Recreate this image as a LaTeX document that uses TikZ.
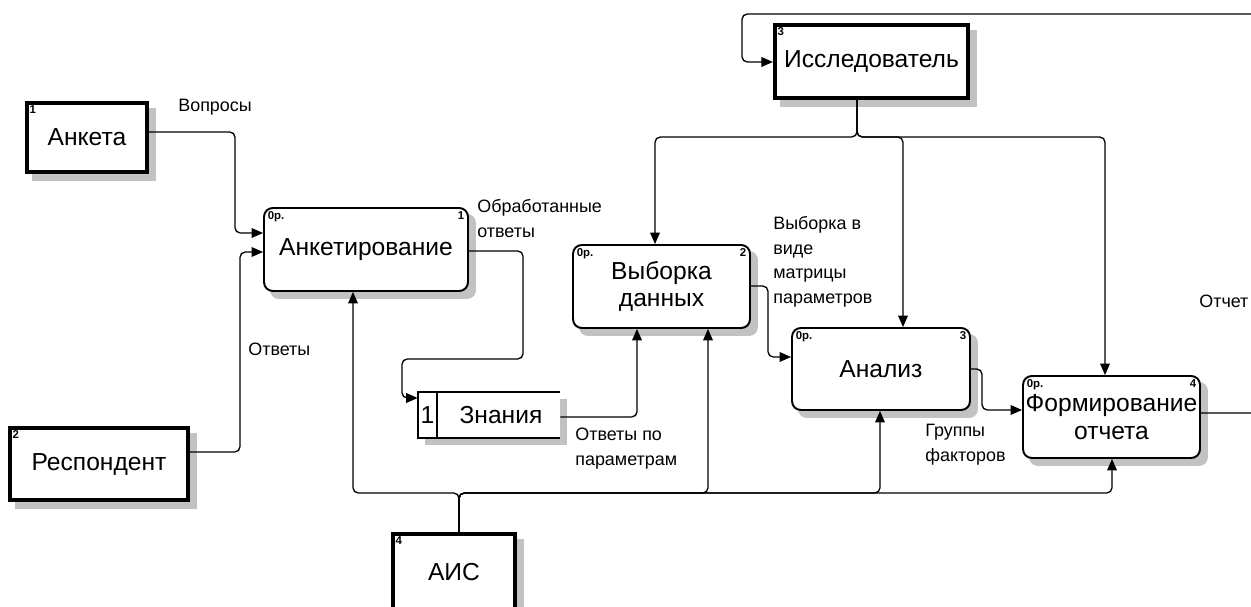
\documentclass[tikz,border=0pt]{standalone}
\usepackage{fontspec}
\setmainfont{Liberation Sans}
\usetikzlibrary{arrows.meta,calc,backgrounds}
\tikzset{
  ext/.style={draw,line width=2.4pt,fill=white,inner sep=0pt,font=\fontsize{14}{16}\selectfont},
  fun/.style={draw,line width=1.1pt,rounded corners=5pt,fill=white,inner sep=0pt,align=center,
    font=\fontsize{14}{15.5}\selectfont},
  num/.style={font=\fontsize{6.5}{7}\selectfont\bfseries,inner sep=2.5pt},
  flow/.style={line width=0.75pt,rounded corners=3pt,-{Triangle[length=6.5pt,width=5.5pt]}},
  lbl/.style={anchor=north west,inner sep=0pt,align=left,font=\fontsize{10.2}{14}\selectfont},
  shdw/.style={fill=black!24}
}
\begin{document}
\begin{tikzpicture}[x=0.02cm,y=-0.02cm]
\useasboundingbox (0,0) rectangle (1251,607);
\node[ext,minimum width=2.4cm,minimum height=1.38cm,
  label={[name=ank-n,num,anchor=north west]north west:1}] (ank) at (87,137.5) {Анкета};
\node[ext,minimum width=3.56cm,minimum height=1.44cm,
  label={[name=resp-n,num,anchor=north west]north west:2}] (resp) at (99,464) {Респондент};
\node[ext,minimum width=3.86cm,minimum height=1.46cm,
  label={[name=isl-n,num,anchor=north west]north west:3}] (isl) at (871.5,61.5) {Исследователь};
\node[ext,minimum width=2.44cm,minimum height=1.52cm,
  label={[name=ais-n,num,anchor=north west]north west:4}] (ais) at (454,572) {АИС};
\node[fun,minimum width=4.08cm,minimum height=1.66cm,
  label={[name=a1-p,num,anchor=north west]north west:0р.},
  label={[name=a1-n,num,anchor=north east]north east:1}] (a1) at (366,249.5) {Анкетирование};
\node[fun,minimum width=3.54cm,minimum height=1.66cm,
  label={[name=a2-p,num,anchor=north west]north west:0р.},
  label={[name=a2-n,num,anchor=north east]north east:2}] (a2) at (661.5,286.5) {Выборка\\данных};
\node[fun,minimum width=3.56cm,minimum height=1.64cm,
  label={[name=a3-p,num,anchor=north west]north west:0р.},
  label={[name=a3-n,num,anchor=north east]north east:3}] (a3) at (881,369) {Анализ};
\node[fun,minimum width=3.54cm,minimum height=1.64cm,
  label={[name=a4-p,num,anchor=north west]north west:0р.},
  label={[name=a4-n,num,anchor=north east]north east:4}] (a4) at (1111.5,417) {Формирование\\отчета};
\node[fill=white,minimum width=2.84cm,minimum height=0.92cm,inner sep=0pt] (zn) at (489,415) {};
\draw[line width=1.1pt] (zn.north east) -- (zn.north west) -- (zn.south west) -- (zn.south east);
\draw[line width=1.1pt] ($(zn.north west)+(19,0)$) -- ($(zn.south west)+(19,0)$);
\node[font=\fontsize{14}{16}\selectfont] (zn-num) at (427.5,415) {1};
\node[font=\fontsize{14}{16}\selectfont] (zn-txt) at (501,415) {Знания};
\begin{scope}[on background layer]
\fill[white] (0,0) rectangle (1251,607);
\foreach \n in {ank,resp,isl,ais,zn}
  \fill[shdw] ($(\n.south west)+(7,7)$) rectangle ($(\n.north east)+(7,7)$);
\foreach \n in {a1,a2,a3,a4}
  \fill[shdw,rounded corners=5pt] ($(\n.south west)+(7,7)$) rectangle ($(\n.north east)+(7,7)$);
\end{scope}
\draw[flow] ($(ank.east)+(0,-5.5)$) -| (235,233) -- ($(a1.west)+(0,-16.5)$);
\draw[flow] ($(resp.east)+(0,-12)$) -| (240,252) -- ($(a1.west)+(0,2.5)$);
\draw[flow] ($(a1.east)+(0,1.5)$) -| (523,359) -| (402,398) -- ($(zn.west)+(0,-17)$);
\draw[flow] ($(zn.east)+(0,2)$) -| ($(a2.south)+(-24.5,0)$);
\draw[flow] ($(a2.east)+(0,-0.5)$) -| (768,357) -- ($(a3.west)+(0,-12)$);
\draw[flow] (a3.east) -| (982,410) -- ($(a4.west)+(0,-7)$);
\draw[flow] ($(a4.east)+(0,-4)$) -- (1270,413) |- (742,14) |- ($(isl.west)+(0,0.5)$);
\draw[flow] ($(isl.south)+(-14.5,0)$) -- (857,137) -| ($(a2.north)+(-6.5,0)$);
\draw[flow] ($(isl.south)+(-14.5,0)$) -- (857,137) -| ($(a3.north)+(22,0)$);
\draw[flow] ($(isl.south)+(-14.5,0)$) -- (857,137) -| ($(a4.north)+(-6.5,0)$);
\draw[flow] ($(ais.north)+(5,0)$) -- (459,493) -| ($(a1.south)+(-13,0)$);
\draw[flow] ($(ais.north)+(5,0)$) -- (459,493) -| ($(a2.south)+(46.5,0)$);
\draw[flow] ($(ais.north)+(5,0)$) -- (459,493) -| ($(a3.south)+(-1,0)$);
\draw[flow] ($(ais.north)+(5,0)$) -- (459,493) -| ($(a4.south)+(0.5,0)$);
\node[lbl] (l-vopr) at (178,99) {Вопросы};
\node[lbl] (l-obr) at (477,199) {Обработанные\\ответы};
\node[lbl] (l-otv) at (248,343) {Ответы};
\node[lbl] (l-par) at (575,428) {Ответы по\\параметрам};
\node[lbl] (l-vyb) at (773,216) {Выборка в\\виде\\матрицы\\параметров};
\node[lbl] (l-grp) at (925,424) {Группы\\факторов};
\node[lbl] (l-otch) at (1199,295) {Отчет};
\end{tikzpicture}
\end{document}
